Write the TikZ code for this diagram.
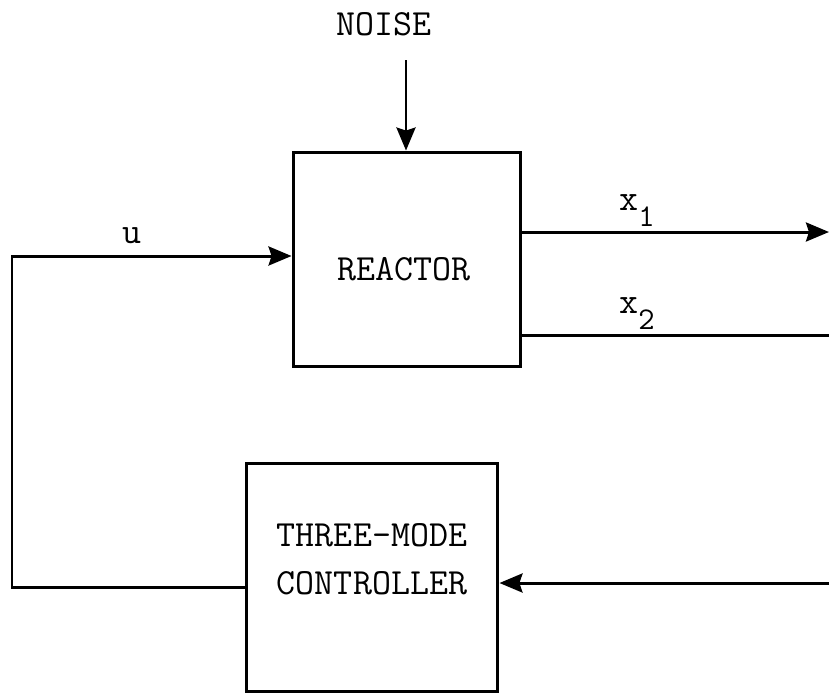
\documentclass[tikz,border=0pt]{standalone}
\usepackage{tikz}
\usetikzlibrary{arrows.meta,positioning}

\tikzset{
    block/.style={draw, line width=1.7pt, rectangle, inner sep=0pt},
    wire/.style={line width=1.7pt},
    arr/.style={wire, -{Stealth[length=0.46cm, width=0.38cm, inset=0.06cm]}},
    lbl/.style={font=\fontsize{21}{25}\selectfont\ttfamily, inner sep=0pt, anchor=base}
}
\newcommand{\sub}[2]{#1\raisebox{-9.5pt}{\fontsize{18}{21}\selectfont #2}}

\begin{document}
\begin{tikzpicture}[x=0.02cm, y=-0.02cm]
            \useasboundingbox (0,0) rectangle (829,694);
            % blocks
            \node[block, minimum width=4.56cm, minimum height=4.3cm] (reactor) at (407,259.5) {};
            \node[block, minimum width=5.04cm, minimum height=4.58cm] (ctrl) at (372,577.5) {};
            \node[lbl] (reactortext) at (404,280) {REACTOR};
            \node[lbl] (ctrltop) at (372,546) {THREE-MODE};
            \node[lbl] (ctrlbot) at (372,594) {CONTROLLER};
            % labels
            \node[lbl] (noise) at (384,35) {NOISE};
            \node[lbl] (ulbl) at (132,243) {u};
            \node[lbl, anchor=base west] (xonelbl) at (619,210) {\sub{x}{1}};
            \node[lbl, anchor=base west] (xtwolbl) at (619,313) {\sub{x}{2}};
            % free ends
            \coordinate (noisetop) at (406,60);
            \coordinate (xoneend) at (829,232);
            \coordinate (xtwoend) at (829,335);
            \coordinate (fbin) at (829,583);
            \coordinate (ltop) at (12,256);
            \coordinate (lbot) at (12,587);
            % connectors
            \draw[arr] (noisetop) -- (noisetop |- reactor.north);
            \draw[arr] (reactor.east |- xoneend) -- (xoneend);
            \draw[wire] (reactor.east |- xtwoend) -- (xtwoend);
            \draw[arr] (fbin) -- (ctrl.east |- fbin);
            \draw[arr] (ctrl.west |- lbot) -- (lbot) -- (ltop) -- (reactor.west |- ltop);
        \end{tikzpicture}
\end{document}
